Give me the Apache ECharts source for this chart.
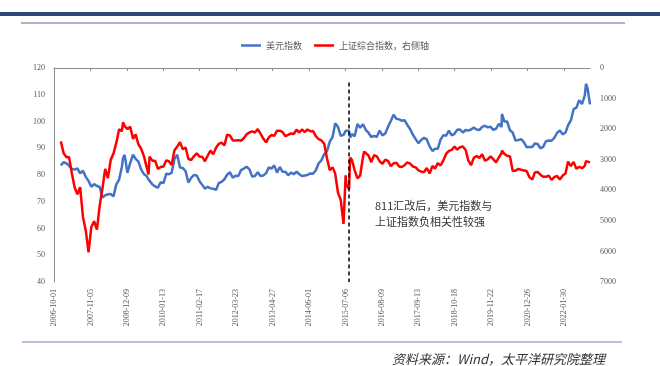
<!DOCTYPE html>
<html>
<head>
<meta charset="utf-8">
<script src="https://cdn.jsdelivr.net/npm/echarts@6/dist/echarts.min.js"></script>
<style>
  html, body { margin: 0; padding: 0; background: #fff; }
  #main { width: 660px; height: 366px; }
</style>
</head>
<body>
<div id="main"></div>
<script>
// x axis tick labels (every 400 days)
var tickDates = ['2006-10-01', '2007-11-05', '2008-12-09', '2010-01-13', '2011-02-17', '2012-03-23',
    '2013-04-27', '2014-06-01', '2015-07-06', '2016-08-09', '2017-09-13', '2018-10-18',
    '2019-11-22', '2020-12-26', '2022-01-30'];

// sample dates ('YYYY-MM' = mid month)
var dates = [
    '2006-12',
    '2007-01', '2007-02', '2007-03', '2007-04', '2007-05', '2007-06', '2007-07', '2007-08', '2007-09', '2007-10', '2007-11', '2007-12',
    '2008-01', '2008-02', '2008-03', '2008-04', '2008-05', '2008-06', '2008-07', '2008-08', '2008-09', '2008-10', '2008-10-28', '2008-11', '2008-12',
    '2009-01', '2009-02', '2009-03', '2009-04', '2009-05', '2009-06', '2009-07', '2009-08-04', '2009-08', '2009-09', '2009-10', '2009-11', '2009-12',
    '2010-01', '2010-02', '2010-03', '2010-04', '2010-05', '2010-06', '2010-07', '2010-08', '2010-09', '2010-10', '2010-11', '2010-12',
    '2011-01', '2011-02', '2011-03', '2011-04', '2011-05', '2011-06', '2011-07', '2011-08', '2011-09', '2011-10', '2011-11', '2011-12',
    '2012-01', '2012-02', '2012-03', '2012-04', '2012-05', '2012-06', '2012-07', '2012-08', '2012-09', '2012-10', '2012-11', '2012-12',
    '2013-01', '2013-02', '2013-03', '2013-04', '2013-05', '2013-06', '2013-07', '2013-08', '2013-09', '2013-10', '2013-11', '2013-12',
    '2014-01', '2014-02', '2014-03', '2014-04', '2014-05', '2014-06', '2014-07', '2014-08', '2014-09', '2014-10', '2014-11', '2014-12',
    '2015-01', '2015-02', '2015-03', '2015-04', '2015-05', '2015-06', '2015-07-08', '2015-07', '2015-08', '2015-08-26', '2015-09', '2015-10', '2015-11', '2015-12',
    '2016-01', '2016-01-27', '2016-02', '2016-03', '2016-04', '2016-05', '2016-06', '2016-07', '2016-08', '2016-09', '2016-10', '2016-11', '2016-12',
    '2017-01', '2017-02', '2017-03', '2017-04', '2017-05', '2017-06', '2017-07', '2017-08', '2017-09', '2017-10', '2017-11', '2017-12',
    '2018-01', '2018-02', '2018-03', '2018-04', '2018-05', '2018-06', '2018-07', '2018-08', '2018-09', '2018-10', '2018-11', '2018-12',
    '2019-01', '2019-02', '2019-03', '2019-04', '2019-05', '2019-06', '2019-07', '2019-08', '2019-09', '2019-10', '2019-11', '2019-12',
    '2020-01', '2020-02', '2020-03', '2020-03-19', '2020-04', '2020-05', '2020-06', '2020-07', '2020-08', '2020-09', '2020-10', '2020-11', '2020-12',
    '2021-01', '2021-02', '2021-03', '2021-04', '2021-05', '2021-06', '2021-07', '2021-08', '2021-09', '2021-10', '2021-11', '2021-12',
    '2022-01', '2022-02', '2022-03', '2022-04', '2022-05', '2022-06', '2022-07', '2022-08', '2022-09', '2022-09-28', '2022-10', '2022-11-11'
];

// 美元指数 (left axis)
var usdIndex = [
    83.6,
    84.8, 84.3, 83.5, 82.3, 82.0, 82.5, 80.6, 81.6, 79.3, 77.8, 75.6, 76.6,
    75.9, 75.5, 71.6, 72.4, 72.8, 72.9, 72.0, 76.5, 78.3, 83.0, 86.4, 87.5, 80.8,
    84.5, 87.6, 86.0, 85.0, 82.0, 80.3, 79.6, 78.3, 78.5, 76.5, 75.7, 75.3, 77.3,
    77.0, 80.5, 80.3, 80.8, 86.0, 87.6, 82.8, 82.6, 81.4, 77.2, 78.9, 80.0,
    79.8, 77.7, 76.4, 74.9, 75.6, 75.0, 74.9, 74.4, 77.0, 77.4, 78.4, 80.1,
    81.0, 79.0, 79.7, 79.6, 81.8, 82.4, 83.1, 82.2, 79.4, 79.6, 81.0, 79.6,
    79.8, 80.7, 82.8, 82.4, 83.6, 80.9, 83.0, 81.2, 81.2, 79.9, 80.9, 80.3,
    81.2, 80.3, 79.6, 79.8, 80.0, 80.6, 80.5, 81.8, 84.4, 85.5, 87.8, 88.8,
    92.5, 94.2, 99.3, 98.0, 94.6, 95.0, 96.5, 97.0, 96.5, 94.0, 95.3, 94.5, 99.1, 97.7,
    99.0, 98.9, 96.8, 95.8, 94.2, 94.6, 94.3, 96.6, 94.8, 95.5, 98.0, 100.2, 102.5,
    101.0, 100.8, 100.3, 100.5, 98.7, 97.2, 95.1, 93.4, 91.9, 93.1, 93.9, 93.3,
    90.7, 89.0, 89.8, 89.8, 93.2, 94.9, 94.7, 96.6, 94.8, 95.4, 96.9, 97.0,
    95.9, 96.8, 96.6, 97.0, 97.7, 97.0, 96.8, 98.0, 98.4, 97.8, 98.0, 96.9,
    97.3, 99.1, 98.0, 102.8, 100.0, 100.0, 96.7, 95.9, 92.9, 93.1, 93.4, 92.3, 90.4,
    90.5, 90.5, 91.8, 91.6, 90.0, 90.5, 92.6, 92.9, 92.8, 93.9, 95.8, 96.6,
    95.2, 95.9, 98.6, 100.4, 104.6, 105.2, 108.0, 106.5, 109.8, 114.1, 112.5, 106.4
];

// 上证综合指数 (right axis, inverted)
var shIndex = [
    2400,
    2790, 2920, 2910, 3440, 3900, 4130, 3900, 4870, 5320, 6030, 5200, 5010,
    5290, 4500, 3960, 3300, 3600, 3000, 2800, 2450, 2000, 2070, 1771, 1900, 2000,
    1920, 2320, 2170, 2500, 2640, 2890, 3250, 3478, 2900, 3030, 3030, 3300, 3240,
    3220, 3020, 3050, 3170, 2700, 2570, 2430, 2660, 2600, 2970, 3010, 2890,
    2790, 2900, 2900, 3050, 2870, 2700, 2820, 2610, 2480, 2440, 2530, 2180,
    2210, 2370, 2370, 2360, 2380, 2300, 2170, 2110, 2070, 2110, 2000, 2150,
    2310, 2430, 2280, 2190, 2220, 2050, 2050, 2100, 2230, 2190, 2140, 2160,
    2020, 2110, 2010, 2100, 2010, 2070, 2060, 2230, 2330, 2370, 2480, 2950,
    3340, 3250, 3450, 4080, 4310, 5100, 3510, 3800, 3960, 2930, 3010, 3340, 3610, 3510,
    2900, 2735, 2750, 2860, 3080, 2850, 2890, 3050, 3130, 3000, 3040, 3210, 3120,
    3100, 3220, 3240, 3180, 3090, 3130, 3220, 3250, 3350, 3390, 3400, 3270,
    3450, 3200, 3290, 3110, 3190, 3020, 2810, 2710, 2680, 2570, 2670, 2590,
    2570, 2680, 3020, 3180, 2940, 2880, 2940, 2820, 3030, 2990, 2890, 2980,
    3090, 2920, 2790, 2700, 2810, 2870, 2890, 3360, 3360, 3300, 3330, 3350, 3370,
    3570, 3650, 3420, 3400, 3490, 3560, 3560, 3520, 3660, 3570, 3530, 3650,
    3520, 3450, 3060, 3210, 3070, 3300, 3230, 3280, 3200, 3045, 3070, 3087
];

var eventDate = '2015-08-11';

var DAY = 86400000;
var origin = Date.UTC(2006, 9, 1);
function dayOf(s) {
    var p = s.split('-');
    var d = p[2] ? +p[2] : 15;
    return Math.round((Date.UTC(+p[0], +p[1] - 1, d) - origin) / DAY);
}
function dateStr(v) {
    return new Date(origin + v * DAY).toISOString().slice(0, 10);
}

var xs = dates.map(dayOf);
var usdData = xs.map(function (x, i) { return [x, usdIndex[i]]; });
var shData = xs.map(function (x, i) { return [x, shIndex[i]]; });
var tickVals = tickDates.map(function (s) { return dayOf(s); });
var xMax = xs[xs.length - 1];

var labelFont = { fontFamily: 'Liberation Serif', fontSize: 8, color: '#595959' };

var myChart = echarts.init(document.getElementById('main'));
var option = {
    backgroundColor: '#fff',
    animation: false,
    legend: {
        left: 236, top: 36,
        icon: 'rect',
        itemWidth: 20, itemHeight: 2.5,
        itemGap: 12,
        textStyle: { fontFamily: 'Noto Sans CJK SC', fontSize: 9, color: '#595959' },
        data: ['美元指数', '上证综合指数，右侧轴']
    },
    grid: { left: 54, right: 70, top: 68, bottom: 84 },
    xAxis: {
        type: 'value',
        min: 0, max: xMax, interval: 400,
        axisLine: { lineStyle: { color: '#8c8c8c', width: 1 } },
        axisTick: { show: true, length: 3, lineStyle: { color: '#8c8c8c' }, customValues: tickVals },
        axisLabel: Object.assign({
            rotate: 90, margin: 7, customValues: tickVals,
            formatter: function (v) { return dateStr(v); }
        }, labelFont),
        splitLine: { show: false }
    },
    yAxis: [
        {
            type: 'value', min: 40, max: 120, interval: 10,
            axisLine: { show: true, lineStyle: { color: '#8c8c8c', width: 1 } },
            axisTick: { show: false },
            axisLabel: Object.assign({ margin: 9 }, labelFont),
            splitLine: { show: false }
        },
        {
            type: 'value', min: 0, max: 7000, interval: 1000, inverse: true,
            axisLine: { show: false },
            axisTick: { show: false },
            axisLabel: Object.assign({ margin: 10, formatter: function (v) { return String(v); } }, labelFont),
            splitLine: { show: false }
        }
    ],
    series: [
        {
            name: '美元指数', type: 'line', yAxisIndex: 0,
            data: usdData, showSymbol: false, symbol: 'none',
            lineStyle: { color: '#4472C4', width: 2.5 },
            itemStyle: { color: '#4472C4' },
            markLine: {
                silent: true, symbol: 'none',
                label: { show: false },
                lineStyle: { color: '#000', type: [4, 3], width: 1.5 },
                data: [[{ coord: [dayOf(eventDate), 114.6] }, { coord: [dayOf(eventDate), 40] }]]
            }
        },
        {
            name: '上证综合指数，右侧轴', type: 'line', yAxisIndex: 1,
            data: shData, showSymbol: false, symbol: 'none',
            lineStyle: { color: '#FF0000', width: 2.5 },
            itemStyle: { color: '#FF0000' }
        }
    ],
    graphic: [
        { type: 'rect', shape: { x: 0, y: 12, width: 660, height: 4 }, style: { fill: '#2B4878' } },
        { type: 'line', shape: { x1: 21, y1: 23, x2: 625, y2: 23 }, style: { stroke: '#9A97B5', lineWidth: 1.5 } },
        { type: 'line', shape: { x1: 22, y1: 342, x2: 622, y2: 342 }, style: { stroke: '#A9A8CC', lineWidth: 1.5 } },
        {
            type: 'text', x: 375, y: 206,
            style: { text: '811汇改后，美元指数与', fontFamily: 'Noto Sans CJK SC', fontSize: 11, fill: '#333', verticalAlign: 'middle' }
        },
        {
            type: 'text', x: 375, y: 222,
            style: { text: '上证指数负相关性较强', fontFamily: 'Noto Sans CJK SC', fontSize: 11, fill: '#333', verticalAlign: 'middle' }
        },
        {
            type: 'text', x: 392, y: 359,
            style: { text: '资料来源：Wind，太平洋研究院整理', fontFamily: 'Noto Sans CJK SC', fontSize: 13, fontStyle: 'italic', fill: '#333', verticalAlign: 'middle' }
        }
    ]
};
myChart.setOption(option);
</script>
</body>
</html>
